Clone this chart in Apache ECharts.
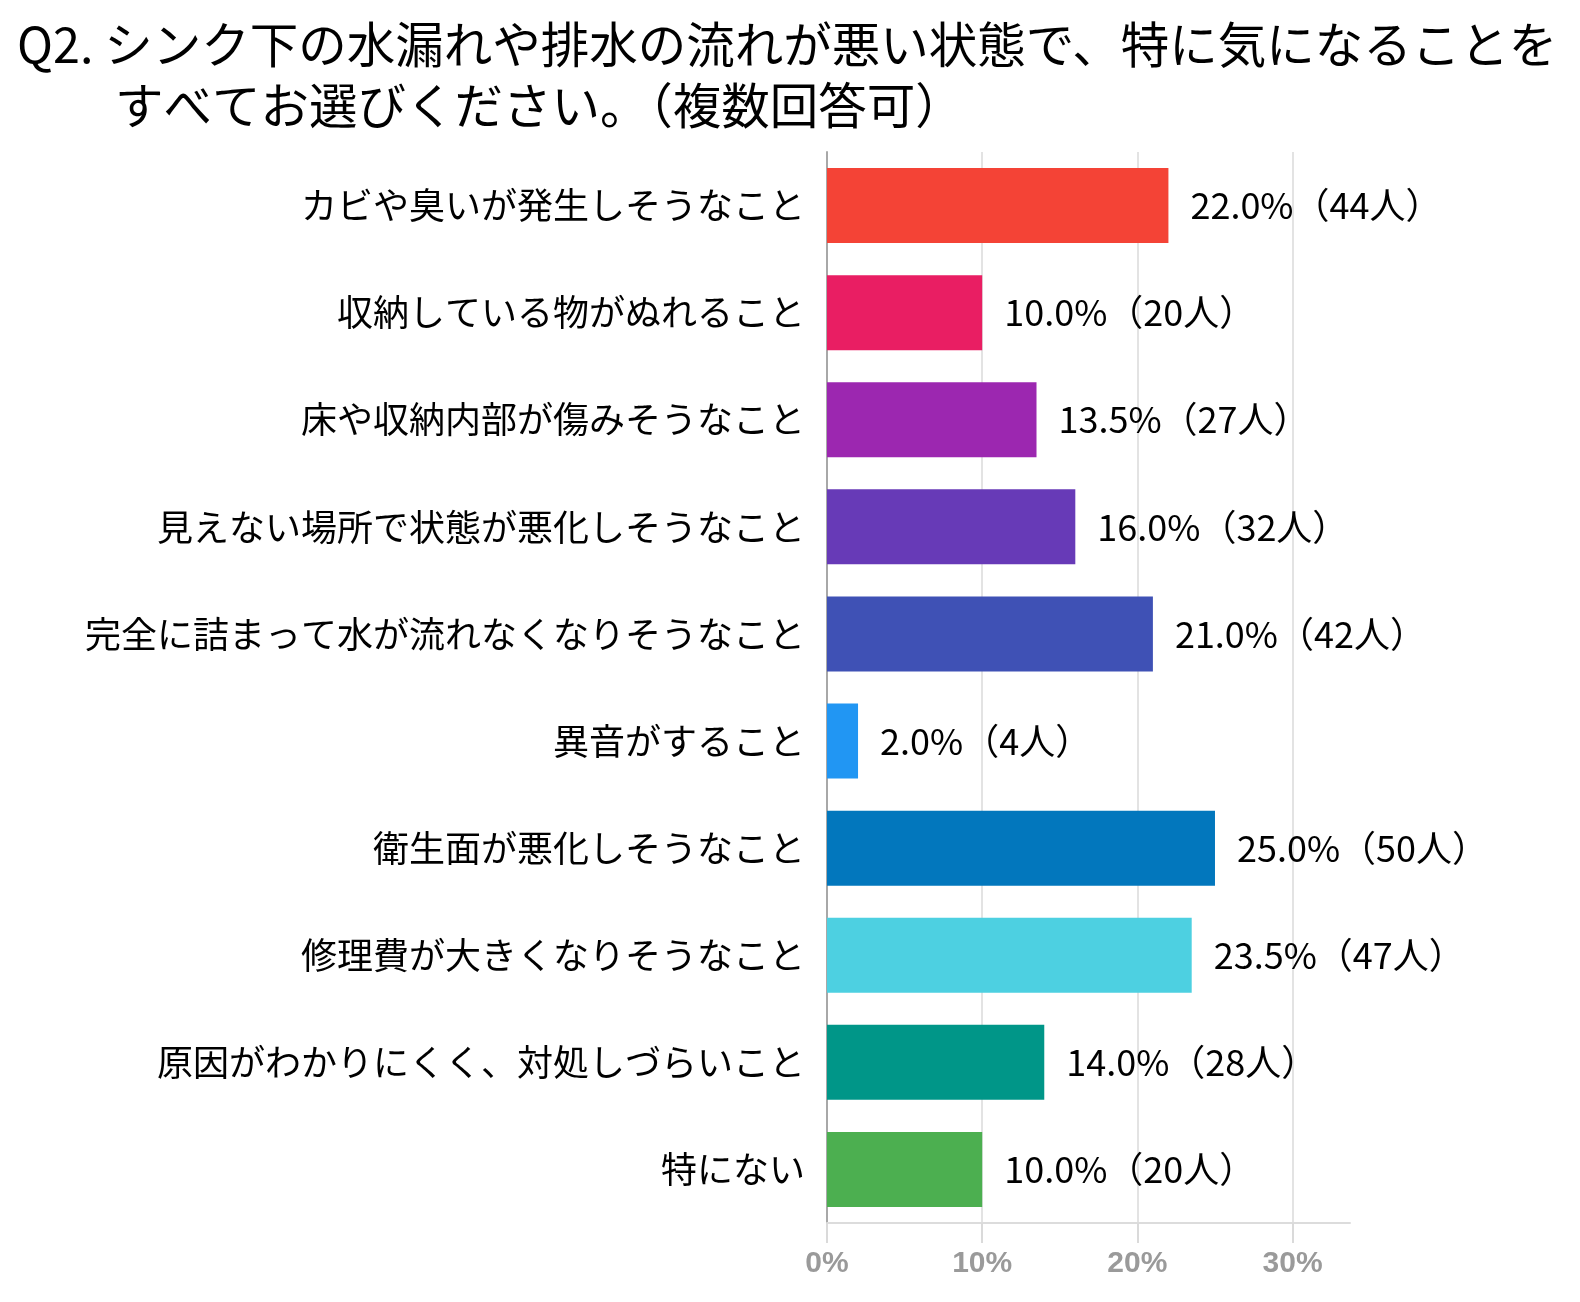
<!DOCTYPE html>
<html>
<head>
<meta charset="utf-8">
<script src="https://cdn.jsdelivr.net/npm/echarts@6/dist/echarts.min.js"></script>
<style>
html,body{margin:0;padding:0;background:#fff;}
#chart{width:1580px;height:1302px;}
</style>
</head>
<body>
<div id="chart"></div>
<script>
const titleLine1 = 'Q2. シンク下の水漏れや排水の流れが悪い状態で、特に気になることを';
const titleLine2 = 'すべてお選びください。（複数回答可）';
const categories = [
  'カビや臭いが発生しそうなこと',
  '収納している物がぬれること',
  '床や収納内部が傷みそうなこと',
  '見えない場所で状態が悪化しそうなこと',
  '完全に詰まって水が流れなくなりそうなこと',
  '異音がすること',
  '衛生面が悪化しそうなこと',
  '修理費が大きくなりそうなこと',
  '原因がわかりにくく、対処しづらいこと',
  '特にない'
];
const percents = [22.0, 10.0, 13.5, 16.0, 21.0, 2.0, 25.0, 23.5, 14.0, 10.0];
const counts = [44, 20, 27, 32, 42, 4, 50, 47, 28, 20];
const barColors = ['#F44336','#E91E63','#9C27B0','#673AB7','#3F51B5','#2196F3','#0277BD','#4DD0E1','#009688','#4CAF50'];

const FONT = '"Noto Sans CJK JP", "Noto Sans", sans-serif';
const chart = echarts.init(document.getElementById('chart'));
chart.setOption({
  backgroundColor: '#fff',
  animation: false,
  title: [
    { text: titleLine1, left: 12, top: 15,
      textStyle: { fontFamily: FONT, fontSize: 48.5, fontWeight: 'normal', color: '#000' } },
    { text: titleLine2, left: 110, top: 76,
      textStyle: { fontFamily: FONT, fontSize: 48.5, fontWeight: 'normal', color: '#000' } }
  ],
  grid: { left: 827, right: 230, top: 152, bottom: 79, containLabel: false },
  xAxis: {
    type: 'value', min: 0, max: 33.7, interval: 10,
    axisLine: { show: true, lineStyle: { color: '#dcdcdc', width: 2 } },
    axisTick: { show: true, length: 20, lineStyle: { color: '#dadada', width: 2 } },
    splitLine: { show: true, showMaxLine: false, lineStyle: { color: '#e3e3e3', width: 2 } },
    axisLabel: { showMaxLabel: false, formatter: '{value}%', margin: 26,
      fontFamily: '"Liberation Sans", Arial, sans-serif', fontSize: 30, fontWeight: 'bold', color: '#9a9a9a' }
  },
  yAxis: {
    type: 'category', data: categories, inverse: true,
    axisLine: { show: true, lineStyle: { color: '#a8a8a8', width: 2 } },
    axisTick: { show: false },
    axisLabel: { fontFamily: FONT, fontSize: 36, color: '#000', margin: 22 }
  },
  series: [{
    type: 'bar',
    barWidth: 75,
    data: percents.map((v, i) => ({ value: v, itemStyle: { color: barColors[i] } })),
    label: {
      show: true, position: 'right', distance: 22,
      fontFamily: FONT, fontSize: 36, color: '#000',
      formatter: p => percents[p.dataIndex].toFixed(1) + '%（' + counts[p.dataIndex] + '人）'
    }
  }]
});
</script>
</body>
</html>
